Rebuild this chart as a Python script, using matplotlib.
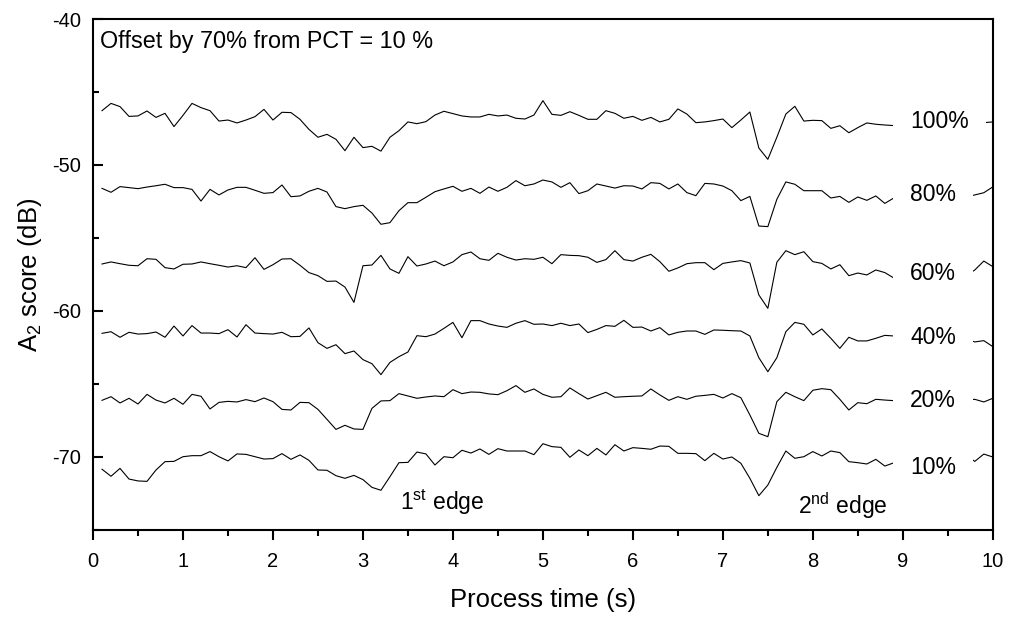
import numpy as np
import matplotlib
matplotlib.use('Agg')
import matplotlib.pyplot as plt
from matplotlib.ticker import MultipleLocator

plt.rcParams['font.family'] = ['Liberation Sans', 'DejaVu Sans']
plt.rcParams['mathtext.fontset'] = 'custom'
plt.rcParams['mathtext.rm'] = 'Liberation Sans'
plt.rcParams['mathtext.it'] = 'Liberation Sans:italic'
plt.rcParams['axes.unicode_minus'] = False

# process time (s), sampled every 0.1 s
time_s = np.round(np.arange(1, 101) * 0.1, 1)

# A2 score (dB) per PCT level, already offset
pct_100 = [-46.28, -45.78, -46.00, -46.67, -46.64, -46.30, -46.74, -46.46, -47.37, -46.60,
           -45.78, -46.07, -46.28, -46.99, -46.92, -47.12, -46.92, -46.69, -46.19, -46.92,
           -46.39, -46.41, -46.87, -47.56, -48.10, -47.90, -48.24, -49.02, -48.10, -48.81,
           -48.72, -49.05, -48.10, -47.65, -47.05, -47.17, -47.03, -46.58, -46.32, -46.48,
           -46.64, -46.71, -46.71, -46.53, -46.64, -46.58, -46.80, -46.85, -46.58, -45.59,
           -46.53, -46.60, -46.35, -46.60, -46.87, -46.87, -46.28, -46.46, -46.80, -46.67,
           -46.94, -46.74, -47.05, -46.87, -46.16, -46.51, -47.10, -47.05, -46.96, -46.85,
           -47.44, -46.92, -46.37, -48.84, -49.61, -48.10, -46.51, -45.98, -46.99, -46.94,
           -46.96, -47.49, -47.31, -47.79, -47.44, -47.12, -47.21, -47.26, -47.30, -47.00,
           -47.40, -47.20, -46.90, -47.30, -47.10, -47.50, -47.20, -47.00, -47.10, -47.05]
pct_80 = [-51.60, -51.87, -51.48, -51.55, -51.62, -51.51, -51.42, -51.32, -51.55, -51.55,
          -51.67, -52.47, -51.67, -52.05, -51.71, -51.53, -51.53, -51.73, -51.94, -51.89,
          -51.37, -52.17, -52.12, -51.80, -51.60, -51.85, -52.85, -52.99, -52.85, -52.76,
          -53.29, -54.06, -53.95, -53.13, -52.58, -52.58, -52.21, -51.83, -51.64, -51.46,
          -51.80, -51.60, -51.94, -51.51, -51.80, -51.53, -51.07, -51.42, -51.30, -51.03,
          -51.16, -51.53, -51.21, -51.96, -51.76, -51.30, -51.44, -51.58, -51.42, -51.44,
          -51.64, -51.21, -51.26, -51.64, -51.30, -51.89, -52.10, -51.26, -51.30, -51.44,
          -51.76, -52.44, -52.15, -54.18, -54.22, -52.35, -51.16, -51.32, -51.76, -51.76,
          -51.76, -52.26, -52.15, -52.56, -52.19, -52.42, -52.12, -52.63, -52.26, -52.40,
          -52.10, -52.50, -52.20, -52.30, -52.00, -52.40, -52.20, -52.05, -51.90, -51.50]
pct_60 = [-56.78, -56.64, -56.76, -56.87, -56.90, -56.42, -56.46, -57.03, -57.12, -56.80,
          -56.78, -56.64, -56.76, -56.87, -56.99, -56.90, -57.03, -56.35, -57.15, -56.83,
          -56.44, -56.42, -56.87, -57.37, -57.58, -57.97, -57.95, -58.36, -59.41, -56.90,
          -56.85, -56.19, -57.12, -57.42, -56.28, -56.92, -56.78, -56.58, -56.90, -56.64,
          -56.14, -55.96, -56.42, -56.53, -56.05, -56.32, -56.51, -56.42, -56.46, -56.32,
          -56.76, -56.14, -56.19, -56.21, -56.32, -56.67, -56.48, -55.87, -56.48, -56.58,
          -56.32, -56.12, -56.62, -57.28, -57.05, -56.76, -56.69, -56.69, -57.17, -56.74,
          -56.64, -56.55, -56.71, -58.90, -59.82, -56.66, -55.87, -56.14, -55.94, -56.62,
          -56.74, -57.12, -56.83, -57.58, -57.40, -57.53, -57.19, -57.37, -57.74, -57.50,
          -57.30, -57.60, -57.40, -57.20, -57.50, -57.30, -57.60, -57.19, -56.58, -56.96]
pct_40 = [-61.53, -61.42, -61.80, -61.46, -61.58, -61.55, -61.44, -61.80, -61.03, -61.71,
          -61.00, -61.51, -61.51, -61.55, -61.28, -61.78, -60.94, -61.51, -61.55, -61.58,
          -61.46, -61.76, -61.74, -61.16, -62.17, -62.56, -62.31, -62.92, -62.74, -63.33,
          -63.61, -64.36, -63.52, -63.13, -62.81, -61.69, -61.76, -61.58, -61.19, -60.78,
          -61.83, -60.66, -60.66, -60.89, -61.03, -61.12, -60.84, -60.66, -60.91, -60.89,
          -61.00, -60.84, -61.00, -60.89, -61.48, -61.26, -61.00, -61.05, -60.64, -61.12,
          -61.10, -61.37, -61.14, -61.64, -61.46, -61.37, -61.37, -61.60, -61.30, -61.32,
          -61.35, -61.37, -61.71, -63.20, -64.16, -63.20, -61.42, -60.78, -60.91, -61.64,
          -61.23, -61.87, -62.56, -61.80, -62.05, -62.05, -61.87, -61.67, -61.71, -61.90,
          -61.60, -62.00, -61.80, -61.70, -62.00, -61.80, -61.90, -62.12, -62.03, -62.44]
pct_20 = [-66.12, -65.87, -66.30, -65.98, -66.37, -65.71, -66.10, -66.30, -65.98, -66.39,
          -65.71, -65.84, -66.71, -66.26, -66.19, -66.23, -66.07, -66.21, -65.96, -66.21,
          -66.74, -66.78, -66.26, -66.28, -66.74, -67.42, -68.11, -67.83, -68.08, -68.11,
          -66.67, -66.16, -66.14, -65.66, -65.82, -65.98, -65.89, -65.82, -65.87, -65.39,
          -65.66, -65.55, -65.57, -65.68, -65.73, -65.46, -65.11, -65.57, -65.34, -65.71,
          -65.91, -65.87, -65.27, -65.66, -66.03, -65.80, -65.57, -65.91, -65.87, -65.84,
          -65.82, -65.34, -65.75, -66.12, -65.87, -66.05, -65.84, -65.78, -65.71, -65.96,
          -65.66, -65.94, -67.12, -68.38, -68.61, -66.21, -65.57, -65.87, -66.14, -65.43,
          -65.32, -65.39, -66.05, -66.78, -66.28, -66.35, -66.05, -66.10, -66.14, -66.00,
          -66.30, -66.10, -65.90, -66.20, -66.00, -66.30, -66.10, -66.05, -66.23, -65.98]
pct_10 = [-70.84, -71.32, -70.78, -71.51, -71.64, -71.67, -70.89, -70.32, -70.30, -69.98,
          -69.91, -69.91, -69.63, -69.98, -70.27, -69.79, -69.82, -69.98, -70.14, -70.11,
          -69.77, -70.16, -69.86, -70.23, -70.89, -70.91, -71.28, -71.46, -71.26, -71.55,
          -72.08, -72.28, -71.35, -70.39, -70.37, -69.66, -69.79, -70.55, -69.98, -70.05,
          -69.54, -69.73, -69.45, -69.82, -69.43, -69.59, -69.59, -69.59, -69.84, -69.09,
          -69.29, -69.34, -70.02, -69.52, -69.91, -69.41, -69.86, -69.16, -69.59, -69.36,
          -69.41, -69.47, -69.25, -69.27, -69.75, -69.75, -69.77, -70.25, -69.75, -70.14,
          -70.00, -70.43, -71.46, -72.65, -71.92, -70.71, -69.59, -70.09, -69.98, -69.63,
          -69.93, -69.59, -69.70, -70.32, -70.39, -70.48, -70.16, -70.62, -70.40, -70.20,
          -70.50, -70.30, -70.10, -70.40, -70.20, -70.00, -69.90, -70.30, -69.80, -70.00]

series = [pct_100, pct_80, pct_60, pct_40, pct_20, pct_10]
curve_labels = ['100%', '80%', '60%', '40%', '20%', '10%']
label_x = 9.08
label_y = [-47.03, -52.05, -57.42, -61.80, -66.14, -70.71]

fig = plt.figure(figsize=(10.11, 6.19), dpi=100)
ax = fig.add_axes([0.092, 0.1438, 0.890, 0.8255])

for vals in series:
    ax.plot(time_s, vals, color='black', linewidth=0.8, zorder=2)

# labels sit on white boxes that hide the curves behind them
for lab, ly in zip(curve_labels, label_y):
    ax.text(label_x, ly, lab, fontsize=16.5, ha='left', va='center', zorder=3,
            bbox=dict(boxstyle='square,pad=0.75', fc='white', ec='none'))

ax.text(0.008, 0.955, 'Offset by 70% from PCT = 10 %', transform=ax.transAxes,
        fontsize=16.8, ha='left', va='center')
ax.text(3.41, -73.65, r'1$^{\mathrm{st}}$ edge', fontsize=16.5, ha='left', va='baseline')
ax.text(7.83, -73.90, r'2$^{\mathrm{nd}}$ edge', fontsize=16.5, ha='left', va='baseline')

ax.set_xlim(0, 10)
ax.set_ylim(-75, -40)
ax.xaxis.set_major_locator(MultipleLocator(1))
ax.xaxis.set_minor_locator(MultipleLocator(0.5))
ax.yaxis.set_major_locator(MultipleLocator(10))
ax.yaxis.set_minor_locator(MultipleLocator(5))
# x ticks point out, y ticks point in
ax.tick_params(which='both', top=False, right=False, width=1.5, labelsize=14.5)
ax.tick_params(axis='x', which='both', direction='out')
ax.tick_params(axis='x', which='major', length=7, pad=9)
ax.tick_params(axis='x', which='minor', length=4)
ax.tick_params(axis='y', which='both', direction='in')
ax.tick_params(axis='y', which='major', length=7, pad=8.5)
ax.tick_params(axis='y', which='minor', length=4)
for sp in ax.spines.values():
    sp.set_linewidth(1.5)

ax.set_xlabel('Process time (s)', fontsize=18.5, labelpad=12)
ax.set_ylabel(r'A$_2$ score (dB)', fontsize=18.5, labelpad=6)

fig.savefig('out.png', dpi=100)
